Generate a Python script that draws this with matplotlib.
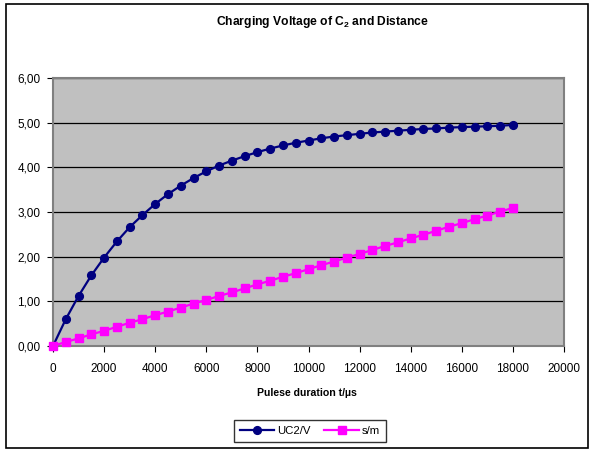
import matplotlib
matplotlib.use("Agg")
import matplotlib.pyplot as plt
from matplotlib.ticker import FuncFormatter, MultipleLocator
from matplotlib.patches import Rectangle

plt.rcParams['font.family'] = ['Liberation Sans', 'DejaVu Sans']
plt.rcParams['mathtext.fontset'] = 'custom'
plt.rcParams['mathtext.rm'] = 'Liberation Sans'
plt.rcParams['mathtext.bf'] = 'Liberation Sans:bold'

title = "Charging Voltage of $\\mathbf{C_2}$ and Distance"
xlabel = "Pulese duration t/µs"
series_names = ["UC2/V", "s/m"]

t_us = [0, 500, 1000, 1500, 2000, 2500, 3000, 3500, 4000, 4500, 5000, 5500,
        6000, 6500, 7000, 7500, 8000, 8500, 9000, 9500, 10000, 10500, 11000,
        11500, 12000, 12500, 13000, 13500, 14000, 14500, 15000, 15500, 16000,
        16500, 17000, 17500, 18000]
uc2 = [0.00, 0.60, 1.12, 1.58, 1.98, 2.34, 2.66, 2.93, 3.18, 3.40, 3.59, 3.76,
       3.91, 4.04, 4.15, 4.25, 4.34, 4.42, 4.49, 4.55, 4.60, 4.65, 4.69,
       4.72, 4.75, 4.78, 4.80, 4.82, 4.84, 4.86, 4.87, 4.89, 4.90,
       4.91, 4.92, 4.93, 4.95]
s_m = [0.00, 0.09, 0.17, 0.26, 0.34, 0.43, 0.52, 0.60, 0.69, 0.77, 0.86, 0.95,
       1.03, 1.12, 1.20, 1.29, 1.38, 1.46, 1.55, 1.63, 1.72, 1.81, 1.89,
       1.98, 2.06, 2.15, 2.24, 2.32, 2.41, 2.49, 2.58, 2.67, 2.75,
       2.84, 2.92, 3.01, 3.09]

W, H = 590, 450
fig = plt.figure(figsize=(W / 100, H / 100), dpi=100)
fig.patch.set_facecolor('white')

# outer chart border
fig.patches.append(Rectangle((6 / W, 2 / H), 582 / W, 444 / H, transform=fig.transFigure,
                             fill=False, edgecolor='black', linewidth=1.2))

ax = fig.add_axes([53 / W, (H - 346) / H, (564 - 53) / W, (346 - 78) / H])
ax.set_facecolor('#C0C0C0')

ax.plot(t_us, uc2, color='#000080', marker='o', markersize=5.6, linewidth=1.6,
        label=series_names[0], clip_on=False, zorder=3)
ax.plot(t_us, s_m, color='#FF00FF', marker='s', markersize=5.3, linewidth=1.6,
        label=series_names[1], clip_on=False, zorder=4)

ax.set_xlim(0, 20000)
ax.set_ylim(0, 6)
ax.xaxis.set_major_locator(MultipleLocator(2000))
ax.yaxis.set_major_locator(MultipleLocator(1))
ax.yaxis.set_major_formatter(FuncFormatter(lambda v, p: f"{v:.2f}".replace('.', ',')))
ax.grid(axis='y', color='black', linewidth=0.9)
ax.set_axisbelow(True)
for sp in ax.spines.values():
    sp.set_color('#808080')
    sp.set_linewidth(1.5)
ax.tick_params(axis='both', direction='out', length=4, width=0.8, color='black',
               labelsize=8.5, colors='black')
ax.tick_params(axis='x', pad=8)
ax.tick_params(axis='y', pad=5)

fig.text(322 / W, 1 - 22 / H, title, ha='center', va='center', fontsize=8.7, fontweight='bold')
fig.text(307 / W, 1 - 393 / H, xlabel, ha='center', va='center', fontsize=7.6, fontweight='bold')

leg = fig.legend(loc='center', bbox_to_anchor=(310 / W, 1 - 431 / H), ncol=2,
                 fontsize=8.2, frameon=True, fancybox=False, edgecolor='black',
                 handlelength=3.0, columnspacing=1.2, handletextpad=0.3,
                 borderpad=0.5)
leg.get_frame().set_linewidth(1.0)

fig.savefig('out.png', dpi=100)
